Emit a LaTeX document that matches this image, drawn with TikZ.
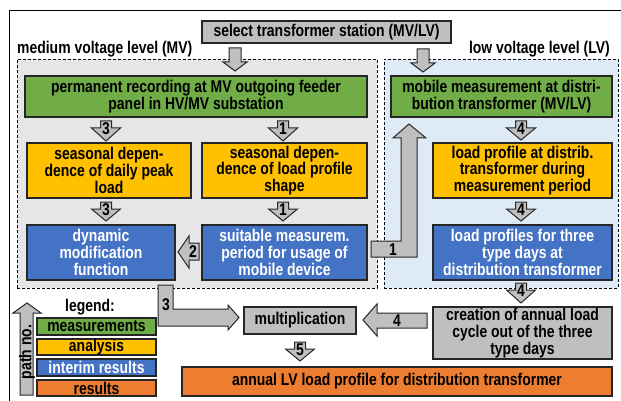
\documentclass[tikz,border=0pt]{standalone}
\usepackage{fontspec}
\setmainfont{Liberation Sans}[FakeStretch=0.82]
\usetikzlibrary{fit}
\definecolor{cgreen}{HTML}{70AD47}
\definecolor{cyellow}{HTML}{FFC000}
\definecolor{cblue}{HTML}{4472C4}
\definecolor{corange}{HTML}{ED7D31}
\definecolor{cgray}{HTML}{BFBFBF}
\definecolor{cmvbg}{HTML}{E7E6E6}
\definecolor{clvbg}{HTML}{DEEBF7}
\definecolor{cline}{HTML}{262626}
\newcommand{\blkdown}[6]{%
  \draw[blkarr] (#1-#5,#2) -- (#1+#5,#2) -- (#1+#5,#3) -- (#1+#6,#3) -- (#1,#4) -- (#1-#6,#3) -- (#1-#5,#3) -- cycle;}
% box with centred text: #1 style, #2 name, #3 corner1, #4 corner2, #5 text
\newcommand{\tbox}[5]{%
  \node[#1,fit={#3 #4}] (#2) {};
  \node[btxt,#1txt] (#2t) at (#2.center) {#5};}
\begin{document}
\begin{tikzpicture}[x=1pt,y=-1pt,
  every node/.style={font=\fontsize{17}{16.7}\selectfont\bfseries},
  box/.style={draw=cline,line width=1.1pt,inner sep=0pt},
  gbox/.style={box,fill=cgreen},
  ybox/.style={box,fill=cyellow},
  bbox/.style={box,fill=cblue},
  obox/.style={box,fill=corange},
  grbox/.style={box,fill=cgray},
  gboxtxt/.style={}, yboxtxt/.style={}, oboxtxt/.style={}, grboxtxt/.style={},
  bboxtxt/.style={text=white},
  btxt/.style={inner sep=0pt,align=center},
  region/.style={draw=black,line width=0.9pt,dash pattern=on 3pt off 2pt,inner sep=0pt},
  blkarr/.style={draw=cline,fill=cgray,line width=1pt,line join=miter},
  numl/.style={inner sep=0pt,font=\fontsize{17}{17}\selectfont\bfseries},
  plain/.style={inner sep=0pt}]
\useasboundingbox (0,0) rectangle (621,401);
\begin{scope}
  \clip (0,0) rectangle (621,401);
  \draw[line width=1pt] (9,11) rectangle (640,420);
\end{scope}
% regions
\node[region,fill=cmvbg,fit={(17,59) (377,288)}] (mv) {};
\node[region,fill=clvbg,fit={(384,59) (618,288)}] (lv) {};
\node[plain,anchor=west] (mvlbl) at (17,49) {medium voltage level (MV)};
\node[plain,anchor=east] (lvlbl) at (610,49) {low voltage level (LV)};
% top
\tbox{grbox}{sel}{(202,21)}{(451,43)}{select transformer station (MV/LV)}
\blkdown{235}{48}{62}{71}{6}{12}
\blkdown{423}{49}{63}{72}{6}{12}
% row 1
\tbox{gbox}{pr}{(25,76)}{(367,117)}{permanent recording at MV outgoing feeder\\panel in HV/MV substation}
\tbox{gbox}{mm}{(391,76)}{(612,117)}{mobile measurement at distri-\\bution transformer (MV/LV)}
% row 2
\tbox{ybox}{sp}{(27,143)}{(191,198)}{seasonal depen-\\dence of daily peak\\load}
\tbox{ybox}{sl}{(202,143)}{(367,198)}{seasonal depen-\\dence of load profile\\shape}
\tbox{ybox}{lp}{(433,143)}{(612,198)}{load profile at distrib.\\transformer during\\measurement period}
% row 3
\tbox{bbox}{dm}{(27,225)}{(175,280)}{dynamic\\modification\\function}
\tbox{bbox}{sm}{(202,225)}{(367,280)}{suitable measurem.\\period for usage of\\mobile device}
\tbox{bbox}{ld}{(433,225)}{(612,280)}{load profiles for three\\type days at\\distribution transformer}
% bottom
\tbox{grbox}{mu}{(244,307)}{(356,334)}{multiplication}
\tbox{grbox}{cr}{(433,307)}{(612,359)}{creation of annual load\\cycle out of the three\\type days}
\tbox{obox}{an}{(182,367)}{(612,396)}{annual LV load profile for distribution transformer}
% numbered down arrows
\blkdown{106}{121}{128}{141}{5.5}{14.5}
\node[numl] (a1) at (106,129) {3};
\blkdown{283}{121}{128}{141}{5.5}{14.5}
\node[numl] (a2) at (283,129) {1};
\blkdown{521}{121}{128}{140}{5.5}{14.5}
\node[numl] (a3) at (521,129) {4};
\blkdown{106}{202}{209}{221}{5.5}{14.5}
\node[numl] (a4) at (106,210) {3};
\blkdown{283}{202}{209}{221}{5.5}{14.5}
\node[numl] (a5) at (283,210) {1};
\blkdown{521}{283}{290}{303}{5.5}{14.5}
\node[numl] (a6) at (521,291) {4};
\blkdown{521}{202}{209}{221}{5.5}{14.5}
\node[numl] (a7) at (521,210) {4};
\blkdown{300}{342}{349}{361}{5.5}{14.5}
\node[numl] (a8) at (300,350) {5};
% arrow 2 (left)
\draw[blkarr] (199,243) -- (199,260) -- (189,260) -- (189,268) -- (178,252) -- (189,236) -- (189,243) -- cycle;
\node[numl] (a9) at (193,252) {2};
% arrow 4 (left)
\draw[blkarr] (427,313) -- (427,328) -- (377,328) -- (377,336) -- (363,320) -- (377,304) -- (377,313) -- cycle;
\node[numl] (a10) at (397,321) {4};
% L arrow 3
\draw[blkarr] (158,285) -- (173,285) -- (173,309) -- (228,309) -- (228,305) -- (239,317.5) -- (228,330) -- (228,326) -- (158,326) -- cycle;
\node[numl] (a11) at (166,305) {3};
% L arrow 1
\draw[blkarr] (371,241) -- (401,241) -- (401,138) -- (393,138) -- (409,124) -- (426,138) -- (417,138) -- (417,257) -- (371,257) -- cycle;
\node[numl] (a12) at (393,250) {1};
% legend
\node[plain] (lg) at (90,307) {legend:};
\tbox{gbox}{l1}{(37,318)}{(156,335)}{measurements}
\tbox{ybox}{l2}{(37,339)}{(156,355)}{analysis}
\tbox{bbox}{l3}{(37,359)}{(156,376)}{interim results}
\tbox{obox}{l4}{(37,380)}{(156,396)}{results}
\draw[blkarr] (20,395) -- (20,313) -- (13,313) -- (27,303) -- (41,313) -- (33,313) -- (33,395) -- cycle;
\node[plain,rotate=90] (pn) at (27,352) {path no.};
\end{tikzpicture}
\end{document}
